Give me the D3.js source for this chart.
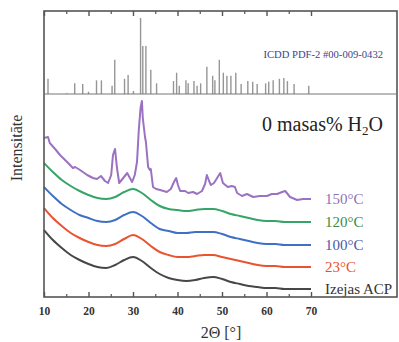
<!DOCTYPE html>
<html>
<head>
<meta charset="utf-8">
<script src="https://cdn.jsdelivr.net/npm/d3@7"></script>
<style>
  html, body { margin: 0; padding: 0; background: #fff; }
  svg { display: block; font-family: "Liberation Serif", "DejaVu Serif", serif; }
</style>
</head>
<body>
<div id="chart"></div>
<script>
// 2θ grid for the smooth (amorphous) patterns
const grid = [10, 12, 14, 16, 18, 20, 22, 24, 26, 28, 30, 32, 34, 36, 38, 40,
  42, 44, 46, 48, 50, 52, 54, 56, 58, 60, 62, 64, 66, 68, 70];

// intensities, a.u. (curves already stacked with offsets)
const izejas = [67, 57, 49, 42, 37, 33, 30, 29, 32, 37, 40, 36, 29, 23, 19, 17,
  16, 17, 19, 20, 18, 15, 13, 11, 10, 9, 9, 8, 8, 8, 8];
const t23 = [89, 79, 71, 64, 59, 55, 52, 51, 53, 58, 62, 58, 51, 45, 42, 40,
  40, 41, 42, 42, 40, 38, 36, 34, 32, 31, 31, 30, 30, 30, 30];
const t100 = [110, 101, 93, 87, 82, 79, 76, 75, 77, 82, 85, 81, 74, 68, 66, 64,
  64, 65, 65, 65, 63, 60, 58, 56, 54, 53, 53, 52, 52, 52, 52];
const t120 = [134, 125, 117, 111, 106, 102, 99, 98, 100, 105, 108, 104, 97, 91, 88, 87,
  86, 87, 88, 88, 86, 83, 81, 79, 77, 76, 76, 75, 75, 75, 75];

// 150°C pattern is crystalline, read as [2θ, intensity]
const t150 = [
  [10.0, 159], [10.9, 160], [11.3, 154], [12.5, 148], [13.6, 142], [15.2, 135],
  [16.5, 129], [17.0, 130], [18.1, 127], [19.7, 122], [21.0, 119], [21.9, 118],
  [22.8, 121], [23.7, 116], [24.4, 114], [25.1, 122], [25.5, 142], [25.96, 148],
  [26.4, 129], [26.9, 114], [27.8, 119], [28.7, 124], [29.3, 119], [29.8, 115],
  [30.4, 122], [30.9, 135], [31.3, 167], [31.7, 189], [32.0, 196], [32.2, 179],
  [32.7, 160], [32.9, 155], [33.4, 130], [33.8, 127], [34.0, 128], [34.5, 110],
  [35.2, 108], [36.1, 107], [37.6, 105], [38.5, 108], [39.2, 115], [39.7, 119],
  [40.1, 112], [40.6, 106], [41.7, 106], [42.4, 104], [43.5, 105], [44.4, 103],
  [45.5, 106], [46.2, 113], [46.6, 122], [47.1, 116], [47.5, 112], [48.2, 114],
  [48.9, 119], [49.6, 124], [50.2, 114], [51.3, 110], [52.2, 111], [52.9, 110],
  [53.4, 104], [54.5, 101], [55.6, 103], [57.0, 100], [58.5, 101], [60.1, 101],
  [61.2, 103], [62.4, 103], [63.5, 105], [64.2, 106], [65.3, 100], [66.9, 97],
  [68.2, 98], [70.0, 98]
];

// ICDD PDF-2 #00-009-0432 reference lines [2θ, rel. intensity]
const pdfLines = [
  [10.9, 20], [15.1, 1], [16.9, 14], [18.7, 13], [20.0, 3], [21.8, 18], [22.9, 18],
  [25.3, 11], [25.9, 45], [28.1, 20], [28.9, 25], [30.1, 4], [31.7, 100], [32.2, 63],
  [32.9, 63], [34.0, 32], [35.3, 14], [39.1, 17], [39.8, 28], [40.4, 11], [41.9, 18],
  [42.4, 14], [43.7, 17], [44.4, 11], [45.2, 14], [46.6, 36], [47.9, 24], [48.4, 18],
  [49.4, 45], [50.3, 28], [51.1, 24], [52.0, 24], [53.1, 28], [54.3, 13], [55.8, 17],
  [56.9, 16], [57.9, 13], [59.8, 14], [60.5, 16], [61.5, 18], [62.9, 20], [63.9, 21],
  [64.7, 17], [66.2, 13], [69.5, 11]
];

const xTicks = [10, 20, 30, 40, 50, 60, 70];
const xMinor = [15, 25, 35, 45, 55, 65];

const series = [
  { name: 'Izejas ACP', color: '#474747', label: '#333333', pts: grid.map((d, i) => [d, izejas[i]]) },
  { name: '23°C', color: '#ea5330', label: '#e9502c', pts: grid.map((d, i) => [d, t23[i]]) },
  { name: '100°C', color: '#3f70c4', label: '#4a58a8', pts: grid.map((d, i) => [d, t100[i]]) },
  { name: '120°C', color: '#34a567', label: '#3b8a4c', pts: grid.map((d, i) => [d, t120[i]]) },
  { name: '150°C', color: '#9b72c2', label: '#8f70b8', pts: t150 }
];

const W = 399, H = 342;
const frame = { left: 44, right: 397, top: 11, bottom: 297, divider: 94 };

const svg = d3.select('#chart').append('svg')
  .attr('width', W).attr('height', H);

const x = d3.scaleLinear().domain([10, 70]).range([frame.left, 311]);
const y = d3.scaleLinear().domain([0, 203]).range([frame.bottom, frame.divider]);
const yPdf = d3.scaleLinear().domain([0, 100]).range([frame.divider, 18]);

// reference sticks
svg.append('g')
  .selectAll('line')
  .data(pdfLines)
  .join('line')
  .attr('x1', d => x(d[0])).attr('x2', d => x(d[0]))
  .attr('y1', yPdf(0)).attr('y2', d => yPdf(d[1]))
  .attr('stroke', '#969696')
  .attr('stroke-width', 1.4);

const line = d3.line()
  .x(d => x(d[0]))
  .y(d => y(d[1]));

svg.append('g')
  .selectAll('path')
  .data(series)
  .join('path')
  .attr('d', d => line.curve(d.name === '150°C' ? d3.curveLinear : d3.curveMonotoneX)(d.pts))
  .attr('fill', 'none')
  .attr('stroke', d => d.color)
  .attr('stroke-width', 2)
  .attr('stroke-linejoin', 'round');

// series labels
svg.append('g')
  .selectAll('text')
  .data(series)
  .join('text')
  .attr('x', 325)
  .attr('y', d => y(d.pts[d.pts.length - 1][1]) + 5)
  .attr('font-size', 15)
  .attr('fill', d => d.label)
  .text(d => d.name);

// frame
const frameColor = '#555';
svg.append('rect')
  .attr('x', frame.left).attr('y', frame.top)
  .attr('width', frame.right - frame.left).attr('height', frame.bottom - frame.top)
  .attr('fill', 'none').attr('stroke', frameColor).attr('stroke-width', 1.6);
svg.append('line')
  .attr('x1', frame.left).attr('x2', frame.right)
  .attr('y1', frame.divider).attr('y2', frame.divider)
  .attr('stroke', '#777').attr('stroke-width', 1);

// bottom axis
const xAxis = d3.axisBottom(x).tickValues(xTicks).tickSize(-5).tickPadding(10)
  .tickFormat(d3.format('d'));
const gx = svg.append('g').attr('transform', `translate(0,${frame.bottom})`).call(xAxis);
gx.select('.domain').remove();
gx.selectAll('.tick line').attr('stroke', frameColor).attr('stroke-width', 1.4);
gx.selectAll('.tick text')
  .attr('font-family', '"Liberation Serif", serif')
  .attr('font-size', 11.5).attr('font-weight', 'bold').attr('fill', '#333');
const gxm = svg.append('g').attr('transform', `translate(0,${frame.bottom})`)
  .call(d3.axisBottom(x).tickValues(xMinor).tickSize(-3).tickFormat(''));
gxm.select('.domain').remove();
gxm.selectAll('.tick line').attr('stroke', frameColor).attr('stroke-width', 1.2);

// top ticks
const gt = svg.append('g').attr('transform', `translate(0,${frame.top})`)
  .call(d3.axisTop(x).tickValues(xTicks).tickSize(-5).tickFormat(''));
gt.select('.domain').remove();
gt.selectAll('.tick line').attr('stroke', frameColor).attr('stroke-width', 1.4);
const gtm = svg.append('g').attr('transform', `translate(0,${frame.top})`)
  .call(d3.axisTop(x).tickValues(xMinor).tickSize(-3).tickFormat(''));
gtm.select('.domain').remove();
gtm.selectAll('.tick line').attr('stroke', frameColor).attr('stroke-width', 1.2);

// titles
svg.append('text')
  .attr('x', 221).attr('y', 338)
  .attr('text-anchor', 'middle')
  .attr('font-size', 16).attr('fill', '#333')
  .text('2Θ [°]');

svg.append('text')
  .attr('transform', 'translate(22,148) rotate(-90)')
  .attr('text-anchor', 'middle')
  .attr('font-size', 16).attr('fill', '#333')
  .text('Intensitāte');

svg.append('text')
  .attr('x', 383).attr('y', 58)
  .attr('text-anchor', 'end')
  .attr('font-size', 10.6).attr('fill', '#3b4590')
  .text('ICDD PDF-2 #00-009-0432');

const ttl = svg.append('text')
  .attr('x', 383).attr('y', 131)
  .attr('text-anchor', 'end')
  .attr('font-size', 20).attr('fill', '#222');
ttl.append('tspan').text('0 masas% H');
ttl.append('tspan').attr('font-size', 13).attr('dy', 4).text('2');
ttl.append('tspan').attr('dy', -4).text('O');
</script>
</body>
</html>
